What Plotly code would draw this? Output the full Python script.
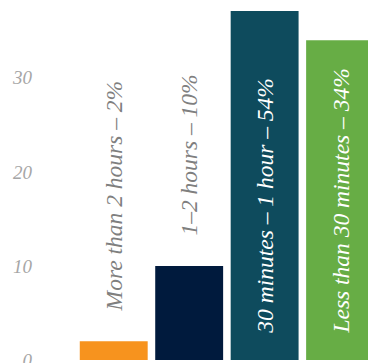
import plotly.graph_objects as go

categories = ["More than 2 hours", "1–2 hours", "30 minutes – 1 hour", "Less than 30 minutes"]
shares = [2, 10, 54, 34]
bar_colors = ["#F7931E", "#001A3D", "#0E4B5D", "#67AD45"]
label_inside = [False, False, True, True]
y_ticks = [0, 10, 20, 30]

serif = "Liberation Serif"

fig = go.Figure(
    go.Bar(
        x=categories,
        y=shares,
        marker=dict(color=bar_colors, line=dict(width=0)),
        hoverinfo="skip",
    )
)

# Rotated labels: above short bars in grey, inside tall bars in white
for cat, val, inside in zip(categories, shares, label_inside):
    fig.add_annotation(
        x=cat,
        y=0 if inside else val,
        yref="y",
        text=f"{cat} – {val}%",
        textangle=-90,
        showarrow=False,
        xanchor="center",
        yanchor="bottom",
        yshift=24 if inside else 28,
        font=dict(family=serif, style="italic", size=23.5,
                  color="#FFFFFF" if inside else "#7F7F7F"),
    )

fig.update_layout(
    width=368,
    height=363,
    margin=dict(l=76, r=0, t=11, b=3),
    paper_bgcolor="white",
    plot_bgcolor="white",
    bargap=0.1,
    showlegend=False,
    xaxis=dict(range=[-0.5, 3.37], showticklabels=False, showgrid=False,
               zeroline=False, showline=False, automargin=False),
    yaxis=dict(range=[0, 37.1], tickvals=y_ticks, showgrid=False, zeroline=False,
               showline=False, ticklabelstandoff=43, ticklabeloverflow="allow",
               automargin=False,
               tickfont=dict(family=serif, style="italic", size=19, color="#A6A6A6")),
)

fig.write_html("out.html")
